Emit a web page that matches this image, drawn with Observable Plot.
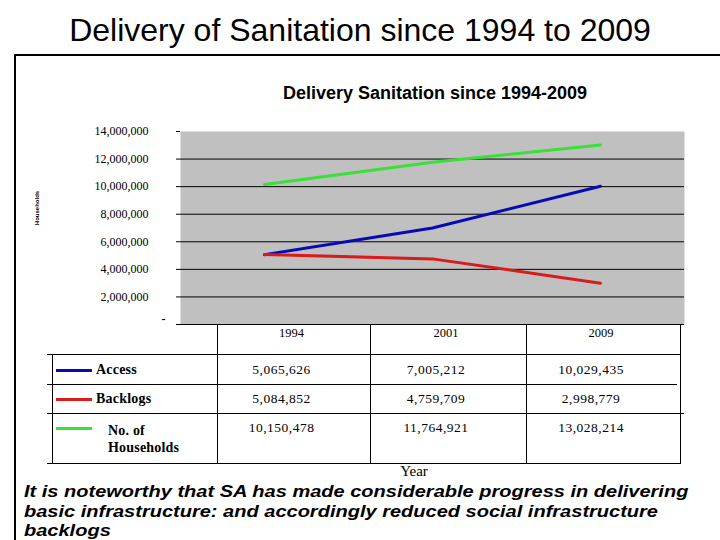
<!DOCTYPE html>
<html>
<head>
<meta charset="utf-8">
<script src="https://cdn.jsdelivr.net/npm/d3@7"></script>
<script src="https://cdn.jsdelivr.net/npm/@observablehq/plot@0.6"></script>
<style>
  html, body { margin: 0; padding: 0; background: #fff; }
  #slide { position: relative; width: 720px; height: 540px; overflow: hidden; font-family: "Liberation Sans", Arial, sans-serif; color: #000; }
  .abs { position: absolute; white-space: nowrap; }
  #title { left: 0; width: 720px; top: 14px; text-align: center; font-size: 32px; line-height: 32px; }
  #box { left: 14px; top: 54px; width: 720px; height: 500px; border-left: 2px solid #000; border-top: 2px solid #000; }
  #ctitle { left: 235px; width: 400px; top: 84px; text-align: center; font-size: 18px; line-height: 18px; font-weight: bold; }
  #ylabel { left: 37px; top: 208px; transform: translate(-50%, -50%) rotate(-90deg); font-size: 6px; font-weight: bold; }
  #chart { left: 0; top: 100px; }
  #table { left: 0; top: 0; width: 720px; height: 540px; font-family: "Liberation Serif", "Times New Roman", serif; }
  .cap { left: 24px; height: 19.5px; font-size: 16.9px; line-height: 19.5px; font-weight: bold; font-style: italic; transform: scaleX(1.185); transform-origin: 0 0; }
  .ln { position: absolute; background: #000; }
</style>
</head>
<body>
<div id="slide">
  <div id="box" class="abs"></div>
  <div id="title" class="abs">Delivery of Sanitation since 1994 to 2009</div>
  <div id="ctitle" class="abs">Delivery Sanitation since 1994-2009</div>
  <div id="ylabel" class="abs">Households</div>
  <div id="chart" class="abs"></div>
  <div id="table" class="abs"></div>
  <div class="abs cap" style="top:482px">It is noteworthy that SA has made considerable progress in delivering</div>
  <div class="abs cap" style="top:501.5px">basic infrastructure: and accordingly reduced social infrastructure</div>
  <div class="abs cap" style="top:521px">backlogs</div>
</div>
<script>
// ---- data ----
const years = ["1994", "2001", "2009"];
const seriesNames = ["Access", "Backlogs", "No. of Households"];
const access = [5065626, 7005212, 10029435];
const backlogs = [5084852, 4759709, 2998779];
const households = [10150478, 11764921, 13028214];
const seriesColors = ["#0a0ab4", "#d81c1c", "#38e038"];
const yTicks = [0, 2000000, 4000000, 6000000, 8000000, 10000000, 12000000, 14000000];
const xTitle = "Year";

const seriesValues = [access, backlogs, households];
const rows = [];
seriesValues.forEach((vals, i) => years.forEach((yr, j) => rows.push({series: seriesNames[i], year: yr, value: vals[j]})));
const fmt = d3.format(",");
const serif = "Liberation Serif";

// ---- chart ----
const chart = Plot.plot({
  width: 720, height: 230,
  marginTop: 31, marginBottom: 6, marginLeft: 180, marginRight: 36,
  style: {background: "transparent", fontSize: "12px", color: "#000"},
  x: {type: "point", domain: years, padding: 0.5, axis: null},
  y: {domain: [0, 14000000], axis: null},
  color: {domain: seriesNames, range: seriesColors},
  marks: [
    Plot.frame({fill: "#c0c0c0", stroke: "none"}),
    Plot.ruleY(yTicks.filter(d => d < 14000000), {stroke: "#000", strokeWidth: 1}),
    Plot.axisY({ticks: yTicks, tickSize: 4, tickPadding: 28, label: null, fontSize: 12, fontFamily: serif,
      tickFormat: d => d === 0 ? "" : fmt(d)}),
    Plot.text([0], {y: d => d, frameAnchor: "left", dx: -19, dy: -5, text: () => "-", fontSize: 12, fontWeight: "bold", fontFamily: serif}),
    Plot.lineY(rows, {x: "year", y: "value", stroke: "series", z: "series", strokeWidth: 3})
  ]
});
document.getElementById("chart").appendChild(chart);

// ---- data table ----
const T = document.getElementById("table");
function line(x, y, w, h) {
  const d = document.createElement("div");
  d.className = "ln";
  Object.assign(d.style, {left: x + "px", top: y + "px", width: w + "px", height: h + "px"});
  T.appendChild(d);
}
function text(str, x, y, w, style) {
  const d = document.createElement("div");
  d.className = "abs";
  d.textContent = str;
  Object.assign(d.style, {left: x + "px", top: y + "px", width: w + "px"}, style || {});
  T.appendChild(d);
  return d;
}
const colX = [217, 370, 526, 680];
const rowY = [324, 354, 384, 413, 463];
colX.forEach(x => line(x, rowY[0], 1, rowY[4] - rowY[0] + 1));
line(52, rowY[1], 1, rowY[4] - rowY[1]);
line(47, rowY[1], colX[3] - 47, 1);
line(47, rowY[2], colX[3] - 47 - 3, 1);
line(47, rowY[3], colX[3] - 47 + 4, 1);
line(47, rowY[4], colX[3] - 47, 1);
years.forEach((yr, j) => text(yr, colX[j] - 2, 327, colX[j + 1] - colX[j], {textAlign: "center", fontSize: "12.5px", lineHeight: "12px"}));
const valueCenters = [370, 399, 428];
seriesNames.forEach((name, i) => {
  const sw = document.createElement("div");
  sw.className = "abs";
  Object.assign(sw.style, {left: "56px", top: (valueCenters[i] - 1.5) + "px", width: "36px", height: "3px", background: seriesColors[i]});
  T.appendChild(sw);
  if (i < 2) {
    text(name, 96, valueCenters[i] - 7, 110, {fontSize: "14px", lineHeight: "14px", fontWeight: "bold", letterSpacing: "0.2px"});
  } else {
    text("No. of", 108, 424, 110, {fontSize: "14px", lineHeight: "14px", fontWeight: "bold", letterSpacing: "0.2px"});
    text("Households", 108, 441, 110, {fontSize: "14px", lineHeight: "14px", fontWeight: "bold", letterSpacing: "0.2px"});
  }
  seriesValues[i].forEach((v, j) => text(fmt(v), colX[j] - 12, valueCenters[i] - 7, colX[j + 1] - colX[j], {textAlign: "center", fontSize: "13.5px", lineHeight: "14px", letterSpacing: "0.5px"}));
});
text(xTitle, 364, 464, 100, {textAlign: "center", fontSize: "15px", lineHeight: "15px"});
</script>
</body>
</html>
